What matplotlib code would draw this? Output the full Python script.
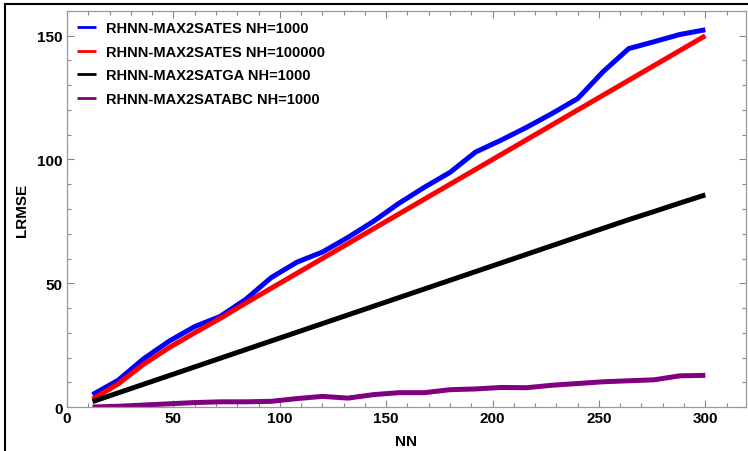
import matplotlib.pyplot as plt
from matplotlib.ticker import MultipleLocator
from matplotlib.lines import Line2D

plt.rcParams['font.family'] = ['Liberation Sans', 'DejaVu Sans']
plt.rcParams['font.weight'] = 'bold'

nn = [12, 24, 36, 48, 60, 72, 84, 96, 108, 120, 132, 144, 156,
      168, 180, 192, 204, 216, 228, 240, 252, 264, 276, 288, 300]

es_1000 = [5.0, 10.8, 19.5, 26.6, 32.5, 36.6, 43.5, 52.3, 58.5, 62.6, 68.5, 75.0, 82.3,
           88.8, 94.8, 103.0, 107.8, 113.0, 118.6, 124.6, 135.5, 144.8, 147.6, 150.5, 152.4]
es_100000 = [3.2, 9.3, 17.3, 24.0, 30.0, 35.8, 42.0, 48.0, 54.0, 60.0, 66.0, 72.0, 78.0,
             84.0, 90.0, 96.0, 102.0, 108.0, 114.0, 120.0, 126.0, 132.0, 138.0, 144.0, 150.0]
ga_1000 = [2.2, 5.7, 9.2, 12.7, 16.2, 19.7, 23.2, 26.7, 30.2, 33.7, 37.2, 40.7, 44.2,
           47.7, 51.2, 54.7, 58.2, 61.7, 65.2, 68.7, 72.2, 75.7, 79.0, 82.4, 85.7]
abc_1000 = [0.0, 0.3, 0.8, 1.3, 1.8, 2.1, 2.1, 2.3, 3.4, 4.3, 3.6, 5.0, 5.8,
            5.8, 7.0, 7.3, 7.9, 7.8, 8.8, 9.5, 10.2, 10.6, 11.0, 12.6, 12.8]

labels = ['RHNN-MAX2SATES NH=1000', 'RHNN-MAX2SATES NH=100000',
          'RHNN-MAX2SATGA NH=1000', 'RHNN-MAX2SATABC NH=1000']
colors = ['#0000ff', '#ff0000', '#000000', '#800080']

fig = plt.figure(figsize=(7.48, 4.52), dpi=100)
ax = fig.add_axes([0.0896, 0.0973, 0.9074, 0.8762])

for ys, c, lab in zip([es_1000, es_100000, ga_1000, abc_1000], colors, labels):
    ax.plot(nn, ys, color=c, lw=3.6, label=lab, solid_capstyle='butt')

ax.set_xlim(0, 319)
ax.set_ylim(0, 160)
ax.xaxis.set_major_locator(MultipleLocator(50))
ax.xaxis.set_minor_locator(MultipleLocator(10))
ax.yaxis.set_major_locator(MultipleLocator(50))
ax.yaxis.set_minor_locator(MultipleLocator(10))
ax.tick_params(which='both', direction='in', top=True, right=True,
               color='#888888', width=0.8, labelsize=11, pad=3)
ax.tick_params(which='major', length=5)
ax.tick_params(which='minor', length=3)
for s in ax.spines.values():
    s.set_color('#999999')
    s.set_linewidth(0.9)

ax.set_xlabel('NN', fontsize=11, fontweight='bold', labelpad=6)
ax.set_ylabel('LRMSE', fontsize=11, fontweight='bold', labelpad=6)

leg = ax.legend(loc='upper left', bbox_to_anchor=(0.0, 1.0), frameon=False,
                fontsize=10.5, handlelength=1.3, handletextpad=0.7,
                labelspacing=0.66, borderaxespad=0.3)
for h in leg.get_lines():
    h.set_linewidth(2)

# outer black frame of the screenshot
fig.add_artist(Line2D([5 / 748, 1], [1 - 5 / 452, 1 - 5 / 452], color='black', lw=1.5,
                      transform=fig.transFigure))
fig.add_artist(Line2D([5 / 748, 5 / 748], [0, 1 - 5 / 452], color='black', lw=1.5,
                      transform=fig.transFigure))

fig.savefig('out.png', dpi=100)
